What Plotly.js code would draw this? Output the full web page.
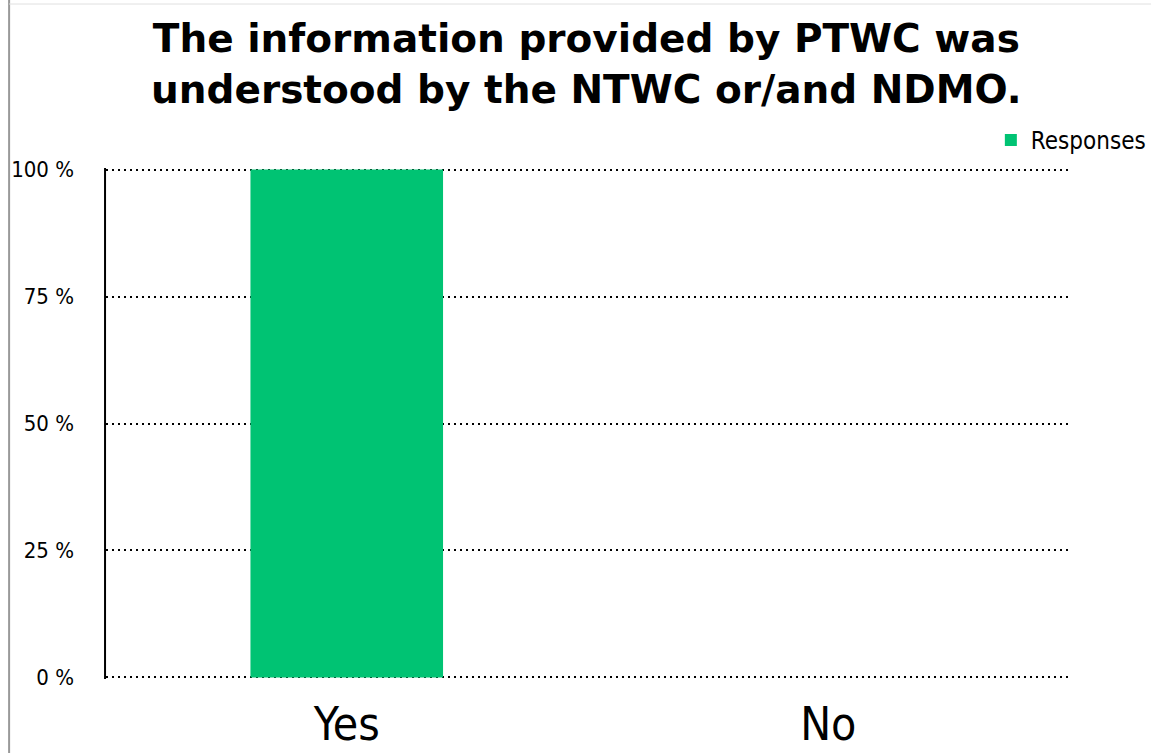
<!DOCTYPE html>
<html><head><meta charset="utf-8">
<script src="https://cdn.plot.ly/plotly-3.0.1.min.js"></script>
<style>html,body{margin:0;padding:0;background:#fff;}#chart{width:1163px;height:753px;}</style>
</head><body><div id="chart"></div>
<script>
const categories = ["Yes", "No"];
const responses = [100, 0];
const yTicks = [0, 25, 50, 75, 100];
const yTickLabels = ["0 %", "25 %", "50 %", "75 %", "100 %"];
const titleText = "The information provided by PTWC was<br>understood by the NTWC or/and NDMO.";

const data = [{
  type: "bar",
  x: categories,
  y: responses,
  name: "Responses",
  marker: {color: "#00c373"},
  width: 0.4,
  showlegend: true
}];

const layout = {
  width: 1163, height: 753,
  margin: {l: 106, r: 83, t: 168, b: 74},
  paper_bgcolor: "#fff", plot_bgcolor: "#fff",
  showlegend: true,
  legend: {
    x: 1.085, xanchor: "right", y: 1.054, yanchor: "middle",
    font: {family: "DejaVu Sans Condensed, sans-serif", size: 24, color: "#000"},
    bgcolor: "rgba(0,0,0,0)"
  },
  xaxis: {
    type: "category",
    tickfont: {family: "DejaVu Sans Condensed, sans-serif", size: 46, color: "#000"},
    showline: false, showgrid: false, zeroline: false, ticks: "",
    ticklabelstandoff: 14
  },
  yaxis: {
    range: [-0.3, 100.3],
    tickvals: yTicks, ticktext: yTickLabels,
    tickfont: {family: "DejaVu Sans Condensed, sans-serif", size: 22, color: "#000"},
    showgrid: true, gridcolor: "#000", griddash: "2px,4px", gridwidth: 2,
    zeroline: false, showline: false,
    ticks: "", ticklabelstandoff: 31
  },
  annotations: [{
    text: titleText, xref: "paper", yref: "paper",
    x: (592-106)/974, xanchor: "center", y: (679-64)/511, yanchor: "middle",
    showarrow: false,
    font: {family: "DejaVu Sans, Verdana, sans-serif", size: 39, color: "#000", weight: "bold"}
  }],
  shapes: [
    {type: "line", xref: "paper", yref: "paper", x0: -0.001, x1: -0.001, y0: 0, y1: 1, line: {color: "#000", width: 2}},
    {type: "line", xref: "paper", yref: "paper", x0: (8-106)/974, x1: (8-106)/974, y0: -74/511, y1: 749/511, line: {color: "#999", width: 2}},
    {type: "line", xref: "paper", yref: "paper", x0: (8-106)/974, x1: (1163-106)/974, y0: (679-4)/511, y1: (679-4)/511, line: {color: "#e0e0e0", width: 1}}
  ]
};

Plotly.newPlot("chart", data, layout, {displayModeBar: false, staticPlot: true});
</script></body></html>
